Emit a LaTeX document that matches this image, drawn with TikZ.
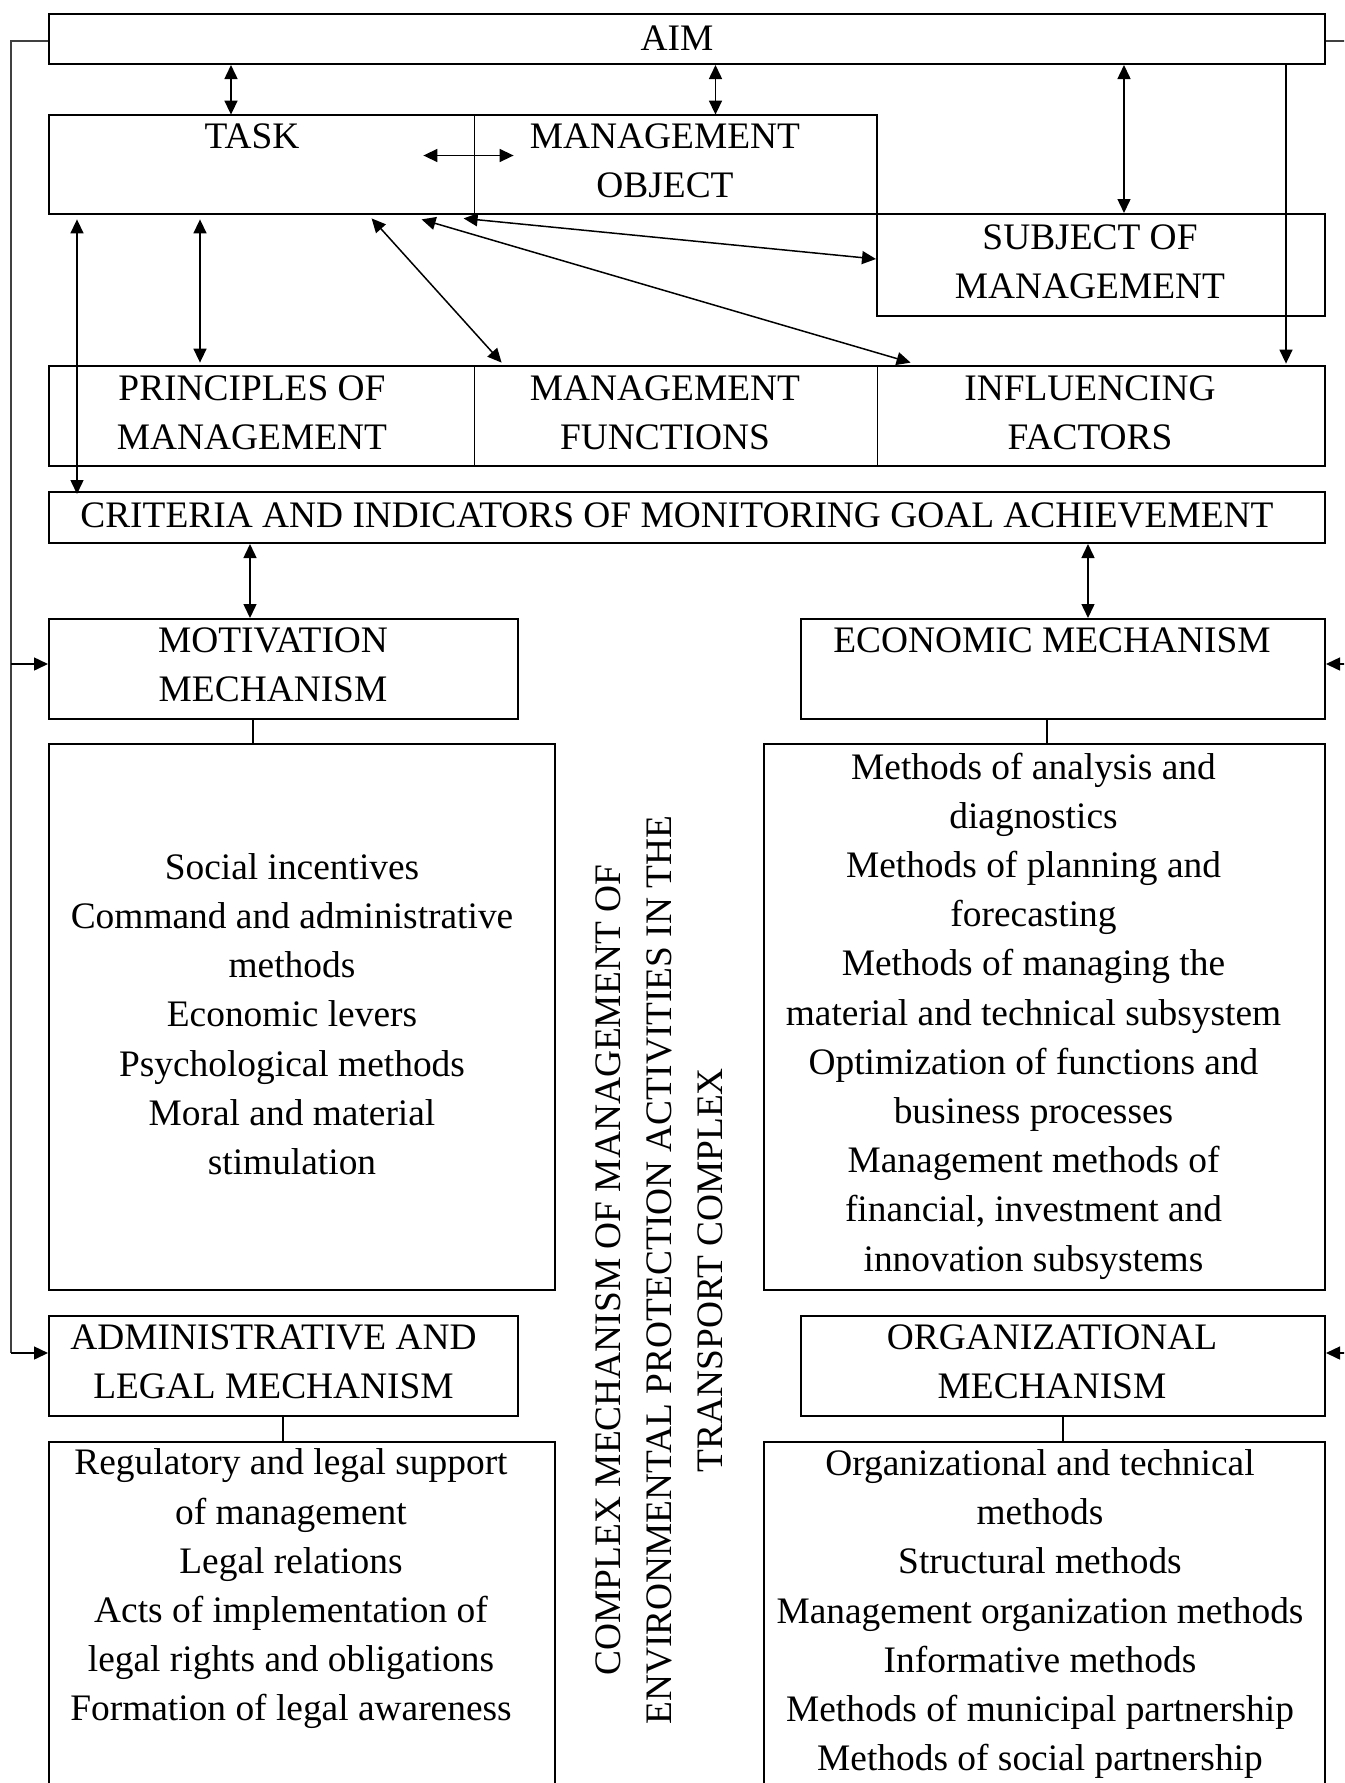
\documentclass[tikz,border=0pt]{standalone}
\usepackage{fontspec}
\setmainfont{Liberation Serif}
\usetikzlibrary{arrows.meta,fit,calc}
\begin{document}
\begin{tikzpicture}[x=0.5pt,y=-0.5pt,
  box/.style={draw, line width=1pt, inner sep=0pt},
  cell/.style={inner sep=0pt},
  txt/.style={font=\fontsize{18.7pt}{24.6pt}\selectfont, align=center, inner sep=0pt},
  vtxt/.style={font=\fontsize{18.7pt}{25.5pt}\selectfont, align=center, inner sep=0pt, rotate=90},
  arrone/.style={line width=0.75pt, -{Triangle[length=7pt,width=6.5pt]}},
  arrtwo/.style={line width=0.75pt, {Triangle[length=7pt,width=6.5pt]}-{Triangle[length=7pt,width=6.5pt]}},
  thinln/.style={line width=0.55pt},
  divln/.style={line width=0.65pt},
  fb/.style={line width=0.55pt, draw=black!75}]
\useasboundingbox (0,0) rectangle (1344,1783);
\clip (0,0) rectangle (1344,1783);

% ---------- boxes ----------
\node[box, fit={(49,14) (1325,64)}] (aim) {};
\node[cell, fit={(49,115) (474,214)}] (task) {};
\node[cell, fit={(474,115) (877,214)}] (mobj) {};
\draw[line width=1pt] (task.north west) rectangle (mobj.south east);
\draw[divln] (task.north east) -- (task.south east);
\node[box, fit={(877,214) (1325,316)}] (subj) {};
\node[cell, fit={(49,366) (474,466)}] (princ) {};
\node[cell, fit={(474,366) (877,466)}] (func) {};
\node[cell, fit={(877,366) (1325,466)}] (infl) {};
\draw[line width=1pt] (princ.north west) rectangle (infl.south east);
\draw[divln] (princ.north east) -- (princ.south east);
\draw[divln] (func.north east) -- (func.south east);
\node[box, fit={(49,492) (1325,543)}] (crit) {};
\node[box, fit={(49,619) (518,719)}] (motiv) {};
\node[box, fit={(801,619) (1325,719)}] (econ) {};
\node[box, fit={(49,744) (555,1290)}] (leftc) {};
\node[box, fit={(764,744) (1325,1290)}] (rightc) {};
\node[box, fit={(49,1316) (518,1416)}] (admin) {};
\node[box, fit={(801,1316) (1325,1416)}] (org) {};
\node[box, fit={(49,1442) (555,1800)}] (leftb) {};
\node[box, fit={(764,1442) (1325,1800)}] (rightb) {};

% ---------- texts ----------
\node[txt] (taim) at (677,38) {AIM};
\node[txt] (ttask) at (252,136.5) {TASK};
\node[txt] (tmo) at (665,161) {MANAGEMENT\\OBJECT};
\node[txt] (tsubj) at (1090,262) {SUBJECT OF\\MANAGEMENT};
\node[txt] (tpr) at (252,413) {PRINCIPLES OF\\MANAGEMENT};
\node[txt] (tfu) at (665,413) {MANAGEMENT\\FUNCTIONS};
\node[txt] (tin) at (1090,413) {INFLUENCING\\FACTORS};
\node[txt] (tcr) at (677,515) {CRITERIA AND INDICATORS OF MONITORING GOAL ACHIEVEMENT};
\node[txt] (tmot) at (273,664.5) {MOTIVATION\\MECHANISM};
\node[txt] (tec) at (1052,640) {ECONOMIC MECHANISM};
\node[txt] (tlc) at (292,1014) {Social incentives\\Command and administrative\\methods\\Economic levers\\Psychological methods\\Moral and material\\stimulation};
\node[txt] (trc) at (1033.5,1016) {Methods of analysis and\\diagnostics\\Methods of planning and\\forecasting\\Methods of managing the\\material and technical subsystem\\Optimization of functions and\\business processes\\Management methods of\\financial, investment and\\innovation subsystems};
\node[txt] (tad) at (273.5,1361.5) {ADMINISTRATIVE AND\\LEGAL MECHANISM};
\node[txt] (tor) at (1052,1361.5) {ORGANIZATIONAL\\MECHANISM};
\node[txt] (tlb) at (291,1589) {Regulatory and legal support\\of management\\Legal relations\\Acts of implementation of\\legal rights and obligations\\Formation of legal awareness};
\node[txt] (trb) at (1040,1614) {Organizational and technical\\methods\\Structural methods\\Management organization methods\\Informative methods\\Methods of municipal partnership\\Methods of social partnership};
\node[vtxt] (tvert) at (659.5,1270) {COMPLEX MECHANISM OF MANAGEMENT OF\\ENVIRONMENTAL PROTECTION ACTIVITIES IN THE\\TRANSPORT COMPLEX};

% ---------- helper columns ----------
\coordinate (c77) at (77,0);
\coordinate (c200) at (200,0);
\coordinate (c231) at (231,0);
\coordinate (c250) at (250,0);
\coordinate (c253) at (253,0);
\coordinate (c283) at (283,0);
\coordinate (c715) at (715.5,0);
\coordinate (c1047) at (1047,0);
\coordinate (c1063) at (1063,0);
\coordinate (c1088) at (1088,0);
\coordinate (c1124) at (1124,0);
\coordinate (c1286) at (1286,0);

% ---------- connectors ----------
\draw[arrtwo] (aim.south -| c231) -- (task.north -| c231);
\draw[arrtwo] (aim.south -| c715) -- (mobj.north -| c715);
\draw[arrtwo] (aim.south -| c1124) -- (subj.north -| c1124);
\draw[arrone] (aim.south -| c1286) -- ($(infl.north -| c1286)+(0,-2)$);
\draw[arrtwo] ($(task.east)+(-51,-9)$) -- ($(mobj.west)+(40,-9)$);

\draw[arrtwo] ($(task.south -| c77)+(0,5)$) -- ($(crit.north -| c77)+(0,3)$);
\draw[arrtwo] ($(task.south -| c200)+(0,5)$) -- ($(princ.north -| c200)+(0,-3)$);
\draw[arrtwo] ($(task.south west)+(323,4)$) -- ($(func.north west)+(28,-3)$);
\draw[arrtwo] ($(task.south west)+(373,5)$) -- ($(infl.north west)+(34,-3)$);
\draw[arrtwo] ($(task.south west)+(415,4)$) -- ($(subj.north west)+(0,46)$);

\draw[arrtwo] (crit.south -| c250) -- (motiv.north -| c250);
\draw[arrtwo] (crit.south -| c1088) -- (econ.north -| c1088);

\draw[thinln] (motiv.south -| c253) -- (leftc.north -| c253);
\draw[thinln] (econ.south -| c1047) -- (rightc.north -| c1047);
\draw[thinln] (admin.south -| c283) -- (leftb.north -| c283);
\draw[thinln] (org.south -| c1063) -- (rightb.north -| c1063);

% ---------- feedback lines ----------
\coordinate (fbL) at (11,41);
\coordinate (fbR) at (1350,41);
\coordinate (motIn) at ($(motiv.west)+(0,-5)$);
\coordinate (admIn) at ($(admin.west)+(0,-13)$);
\coordinate (ecoIn) at ($(econ.east)+(0,-5)$);
\coordinate (orgIn) at ($(org.east)+(0,-13)$);
\draw[fb] (aim.west |- fbL) -- (fbL) -- (fbL |- admIn);
\draw[fb] (aim.east |- fbR) -- (fbR);
\draw[arrone] (fbL |- motIn) -- (motIn);
\draw[arrone] (fbL |- admIn) -- (admIn);
\draw[arrone] (fbR |- ecoIn) -- (ecoIn);
\draw[arrone] (fbR |- orgIn) -- (orgIn);
\end{tikzpicture}
\end{document}
